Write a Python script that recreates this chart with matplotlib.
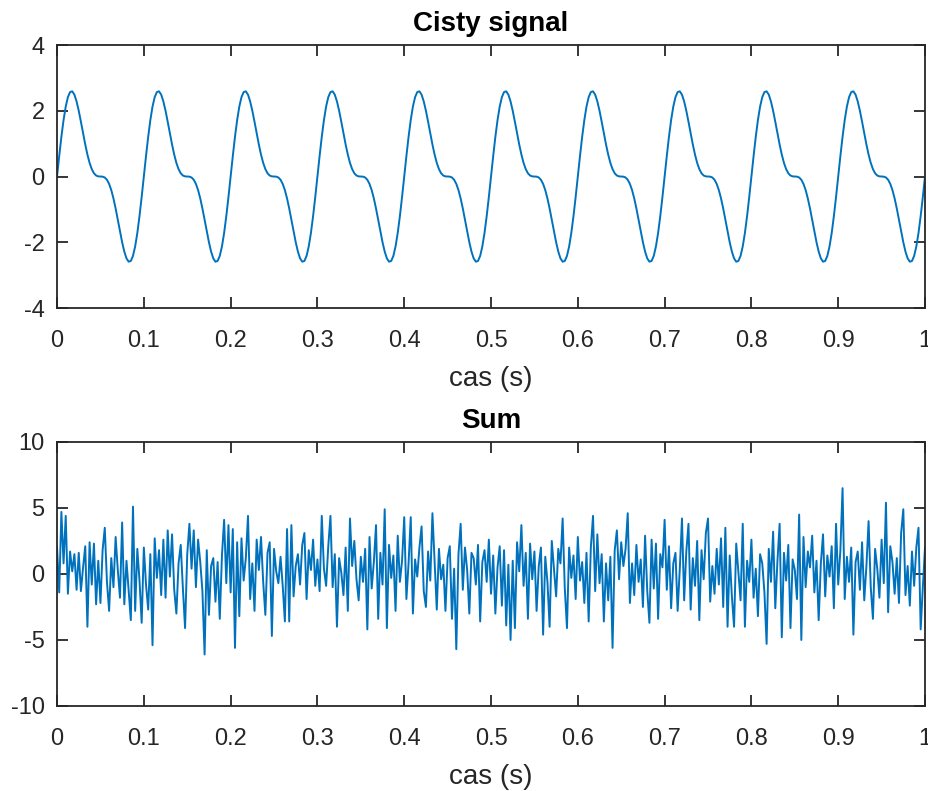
import numpy as np
import matplotlib
matplotlib.use("Agg")
import matplotlib.pyplot as plt
from matplotlib.ticker import FormatStrFormatter

plt.rcParams['font.family'] = ['Liberation Sans', 'DejaVu Sans']

# ---------------- data ----------------
# one period (0.1 s, 40 samples) of the clean signal, repeated 10 times
clean_period = [0.000, 0.622, 1.206, 1.717, 2.127, 2.414, 2.569, 2.591, 2.490, 2.284,
                2.000, 1.666, 1.314, 0.973, 0.667, 0.414, 0.225, 0.099, 0.030, 0.004,
                0.000, -0.004, -0.030, -0.099, -0.225, -0.414, -0.667, -0.973, -1.314, -1.666,
                -2.000, -2.284, -2.490, -2.591, -2.569, -2.414, -2.127, -1.717, -1.206, -0.622]
n_periods = 10

# noisy sum, 401 samples over 0..1 s
noisy = [
    2.0, -1.4, 4.7, 0.8, 4.4, -1.5, 1.7, 0.2, 1.5, -1.2, 1.6, -1.3, 0.5, 2.1, -4.0, 2.4, -0.8, 2.3, -2.3, 1.0,
    -2.2, 1.8, 3.5, -0.6, -2.8, 1.2, -1.0, 2.8, 0.3, -1.8, 3.9, -2.3, 1.0, -1.2, -3.5, 5.1, -2.8, 1.9, -0.5, -3.7,
    2.0, -0.8, -2.7, 1.5, -5.4, 2.7, -0.3, 1.8, -1.6, 2.6, -1.8, 3.3, -0.2, 3.0, -1.2, -3.0, 0.8, 2.2, -1.1, -4.1,
    1.5, 3.8, 0.4, 3.3, -1.0, 2.6, 0.9, -1.3, -6.1, 1.8, -3.1, 0.6, 1.2, -2.1, 0.9, -3.4, 1.4, 4.1, -0.7, 3.7,
    -1.4, 3.4, -5.6, 2.4, -3.2, 2.7, -0.5, 1.2, 4.4, -1.9, 0.8, -2.8, 2.6, 0.3, 2.8, -0.6, -3.1, 1.6, 2.4, -4.7,
    1.9, 0.2, -0.7, 1.3, -0.9, -3.6, 3.4, -3.6, 3.7, -1.7, 0.6, 1.5, -0.8, 2.2, 3.1, -1.9, 1.8, 0.3, 2.6, -0.9,
    1.1, -1.3, 4.4, 0.4, -0.9, 2.1, 4.4, -1.0, 1.5, -4.0, 1.2, 0.1, -1.6, 2.0, -2.8, 4.2, 0.6, 2.5, -0.4, -2.0,
    1.3, -0.6, 1.9, -4.2, 2.8, -1.1, 0.9, 3.7, -3.4, 1.6, -0.8, 4.9, -4.1, 2.2, -0.3, 1.4, -2.8, 2.9, -0.6, 1.0,
    4.3, -1.9, 0.8, 4.3, -3.0, 1.1, -0.2, 2.0, 3.6, -1.3, -2.5, 1.7, -0.5, 4.6, 0.9, -2.7, 1.9, -0.4, 0.7, -2.8,
    1.2, 2.1, -3.4, 0.4, -5.7, 1.5, 3.8, -1.2, 2.0, 0.3, -3.0, 1.6, 1.2, -0.8, 2.2, -3.6, 0.9, 1.8, -0.6, 2.6,
    -1.5, 1.4, -3.0, 0.5, 2.1, -2.4, 1.8, -3.9, 0.7, -5.0, 1.0, -4.1, 2.4, 0.2, 3.7, -0.9, 1.6, -3.4, 2.3, -0.4,
    1.7, -2.8, 0.6, 2.0, -4.6, 1.3, -0.6, -4.0, 2.5, 0.4, -1.7, 1.9, 0.8, 4.2, -1.1, -4.1, 2.0, -0.3, 1.4, -1.9,
    2.8, -0.5, 0.9, -2.2, 1.6, -3.6, 2.0, 4.4, -1.3, 3.0, -0.7, 1.5, -3.6, 0.8, -2.0, 1.3, -5.6, 1.8, 3.3, -0.4,
    2.4, 0.6, 1.9, 4.6, -2.2, 0.8, -1.6, 2.2, -0.6, 1.1, -2.5, 2.9, -1.3, -3.7, 2.6, -1.1, 2.3, -3.4, 1.5, 0.5,
    4.1, -1.2, 2.1, -2.6, 0.8, 1.6, -2.8, 0.4, 4.2, -2.0, 1.7, 3.8, -2.7, 1.2, -0.9, 2.5, -3.5, 1.8, -0.4, 3.1,
    4.2, -2.1, 0.6, -1.5, 1.9, -0.8, 2.7, -2.5, 3.5, -4.0, 1.4, -1.7, -4.0, 2.3, 0.2, -2.0, 3.8, -4.0, 1.0, -0.6,
    2.6, -1.8, 0.4, -3.2, 1.5, 0.8, -1.4, -5.3, 1.9, -0.6, 3.2, -2.6, 1.0, 3.8, -4.8, 1.6, -0.5, 2.2, -4.1, 1.1,
    0.3, -1.9, 4.5, -5.0, 2.8, -1.0, 1.7, 0.5, 2.9, -1.4, 1.0, -3.5, 0.8, 3.0, -1.7, 1.4, -0.2, 2.1, -2.6, 3.8,
    -0.8, 1.8, 6.5, -1.9, 1.3, -0.6, 2.0, -4.6, 0.9, 1.7, -1.2, 2.4, -2.0, 0.6, 4.0, -1.0, -3.4, 1.9, 0.4, -1.8,
    2.6, -0.7, 5.4, -2.9, 2.1, 0.9, -1.5, 1.2, -2.2, 3.1, 4.9, -1.6, 0.6, -2.4, 1.7, -0.9, 2.0, 3.5, -4.2, -1.0,
    2.0]

xticks = [0, 0.1, 0.2, 0.3, 0.4, 0.5, 0.6, 0.7, 0.8, 0.9, 1]
yticks_top = [-4, -2, 0, 2, 4]
yticks_bottom = [-10, -5, 0, 5, 10]

clean = np.append(np.tile(clean_period, n_periods), 0.0)
t_clean = np.linspace(0, 1, len(clean))
t_noisy = np.linspace(0, 1, len(noisy))

# ---------------- figure ----------------
fig = plt.figure(figsize=(9.29, 7.91), dpi=100)
ax1 = fig.add_axes([0.0614, 0.6106, 0.9343, 0.3325])
ax2 = fig.add_axes([0.0614, 0.1075, 0.9343, 0.3338])

line_col = '#0072BD'
axis_col = '#262626'

for ax, t, y, yt, title in [(ax1, t_clean, clean, yticks_top, 'Cisty signal'),
                            (ax2, t_noisy, noisy, yticks_bottom, 'Sum')]:
    ax.plot(t, y, color=line_col, lw=1.4)
    ax.set_xlim(0, 1)
    ax.set_ylim(yt[0], yt[-1])
    ax.set_xticks(xticks)
    ax.set_yticks(yt)
    ax.xaxis.set_major_formatter(FormatStrFormatter('%g'))
    ax.yaxis.set_major_formatter(FormatStrFormatter('%g'))
    ax.tick_params(direction='in', length=8, width=1.3, colors=axis_col,
                   labelsize=17, top=True, right=True)
    ax.tick_params(axis='x', pad=16)
    ax.tick_params(axis='y', pad=9)
    for sp in ax.spines.values():
        sp.set_color(axis_col)
        sp.set_linewidth(1.3)
    ax.set_title(title, fontsize=20, fontweight='bold', pad=10)
    ax.set_xlabel('cas (s)', fontsize=20, color=axis_col, labelpad=10)

fig.savefig('out.png', dpi=100)
